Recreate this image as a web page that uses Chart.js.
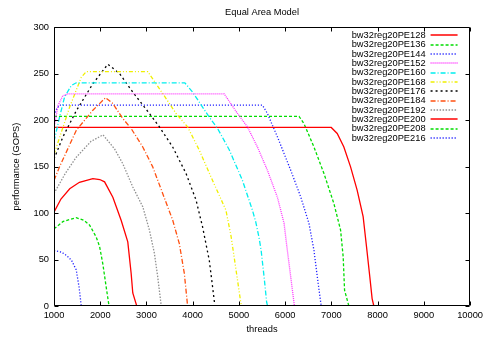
<!DOCTYPE html>
<html>
<head>
<meta charset="utf-8">
<script src="https://cdn.jsdelivr.net/npm/chart.js@4.4.1/dist/chart.umd.min.js"></script>
<style>
  html, body { margin: 0; padding: 0; background: #fff; }
  #wrap { width: 487px; height: 339px; }
</style>
</head>
<body>
<div id="wrap"><canvas id="c" width="487" height="339"></canvas></div>
<script>
// Text
const chartTitle = 'Equal Area Model';
const xTitle = 'threads';
const yTitle = 'performance (GOPS)';

// Axis ticks
const xTicks = [1000, 2000, 3000, 4000, 5000, 6000, 7000, 8000, 9000, 10000];
const yTicks = [0, 50, 100, 150, 200, 250, 300];

// Series names
const seriesNames = [
  'bw32reg20PE128', 'bw32reg20PE136', 'bw32reg20PE144', 'bw32reg20PE152',
  'bw32reg20PE160', 'bw32reg20PE168', 'bw32reg20PE176', 'bw32reg20PE184',
  'bw32reg20PE192', 'bw32reg20PE200', 'bw32reg20PE208', 'bw32reg20PE216'
];

// Performance curves: threads and GOPS per configuration
const pe128Threads = [1000, 1150, 1340, 1550, 1840, 1990, 2094, 2273, 2454, 2596, 2669, 2704, 2790];
const pe128Gops    = [101, 115, 126, 133, 137, 136, 133.5, 117, 92, 69, 35, 14, 0];

const pe136Threads = [1000, 1200, 1480, 1650, 1770, 1914, 1986, 2057, 2130, 2190];
const pe136Gops    = [83, 91, 95, 92, 87, 74, 64, 45, 20, 0];

const pe144Threads = [1000, 1160, 1280, 1380, 1480, 1540, 1590];
const pe144Gops    = [59.5, 58, 54, 49, 39, 21, 0];

const pe152Threads = [1000, 1090, 1190, 1300, 4682, 4969, 5184, 5400, 5616, 5832, 5976, 6047, 6120, 6200];
const pe152Gops    = [192, 216, 226, 228, 228, 207, 192.6, 171, 146, 117, 89, 60, 31.5, 0];

const pe160Threads = [1000, 1120, 1230, 1375, 1480, 3830, 3998, 4359, 4537, 4790, 5077, 5292, 5366, 5437, 5480, 5545, 5600, 5620];
const pe160Gops    = [177, 203, 225, 237, 240, 240, 230, 203, 191, 168, 135, 103, 90, 73, 60, 31, 4, 0];

const pe168Threads = [1000, 1339, 1591, 1699, 3028, 3351, 3640, 3890, 4143, 4430, 4719, 4830, 4934, 5042, 5060];
const pe168Gops    = [163, 214, 246, 252, 252, 228.5, 207, 192.6, 167.6, 135, 103, 75, 40, 3, 0];

const pe176Threads = [1000, 1194, 1483, 1841, 2165, 2417, 2704, 3064, 3280, 3567, 3856, 4072, 4214, 4359, 4430, 4480];
const pe176Gops    = [158, 182, 210, 239, 260, 250, 230, 207, 192.6, 171, 142.5, 114, 85, 49, 20.7, 0];

const pe184Threads = [1000, 1123, 1483, 1841, 2115, 2273, 2488, 2669, 2920, 3135, 3351, 3567, 3711, 3819, 3890];
const pe184Gops    = [135, 150, 189, 210.5, 224, 217.7, 201.6, 190.8, 171, 149.6, 121, 92.4, 67, 35, 0];

const pe192Threads = [1000, 1250, 1483, 1800, 2060, 2309, 2488, 2704, 2920, 3064, 3172, 3243, 3320];
const pe192Gops    = [121, 143, 160, 177, 184, 169, 153, 128, 106.7, 81.6, 56.6, 31.5, 0];

const pe200Threads = [1000, 6997, 7126, 7270, 7415, 7557, 7687, 7760, 7831, 7881, 7918];
const pe200Gops    = [192, 192, 185.5, 171, 149.6, 124.6, 96, 63.7, 31.5, 8, 0];

const pe208Threads = [1000, 6300, 6408, 6623, 6839, 7055, 7199, 7255, 7285, 7378];
const pe208Gops    = [204, 204, 196, 171, 142.5, 110, 81.6, 53, 17, 0];

const pe216Threads = [1000, 1060, 1120, 5508, 5616, 5832, 6120, 6336, 6515, 6623, 6695, 6780];
const pe216Gops    = [205, 212, 216, 216, 207, 182, 146, 117.4, 88.8, 60, 31.5, 0];

const seriesThreads = [pe128Threads, pe136Threads, pe144Threads, pe152Threads, pe160Threads, pe168Threads,
                       pe176Threads, pe184Threads, pe192Threads, pe200Threads, pe208Threads, pe216Threads];
const seriesGops = [pe128Gops, pe136Gops, pe144Gops, pe152Gops, pe160Gops, pe168Gops,
                    pe176Gops, pe184Gops, pe192Gops, pe200Gops, pe208Gops, pe216Gops];

// gnuplot-like line types (colour cycle repeats after nine)
const lineColors = ['#ff0000', '#00dd00', '#2020ff', '#ff30ff', '#00eeee', '#f0f000',
                    '#000000', '#ff5010', '#909090', '#ff0000', '#00dd00', '#2020ff'];
const lineDashes = [[], [3, 2], [1.2, 1.8], [1, 1], [5, 2, 1, 2], [4, 2, 1, 2, 1, 2],
                    [2, 3], [5, 2, 1, 2], [1.5, 1.5], [], [3, 2], [1.2, 1.8]];
const LW = 1.3;

const FONT = '"Liberation Sans", Arial, Helvetica, sans-serif';
const FS = 9.3;

const datasets = seriesNames.map((name, i) => ({
  label: name,
  data: seriesThreads[i].map((t, j) => ({ x: t, y: seriesGops[i][j] })),
  borderColor: lineColors[i],
  borderDash: lineDashes[i],
  borderWidth: LW,
  pointRadius: 0,
  fill: false,
  tension: 0
}));

// Border box, mirrored inward ticks, title and key
const gnuplotFrame = {
  id: 'gnuplotFrame',
  afterDraw(chart) {
    const { ctx, chartArea: a, scales } = chart;
    ctx.save();
    ctx.strokeStyle = '#000';
    ctx.lineWidth = 1;
    ctx.setLineDash([]);
    const L = Math.round(a.left) + 0.5, R = Math.round(a.right) - 0.5;
    const T = Math.round(a.top) + 0.5, B = Math.round(a.bottom) - 0.5;
    ctx.beginPath();
    ctx.rect(L, T, R - L, B - T);
    const tl = 4;
    scales.x.ticks.forEach(t => {
      const px = Math.round(scales.x.getPixelForValue(t.value)) + 0.5;
      ctx.moveTo(px, B); ctx.lineTo(px, B - tl);
      ctx.moveTo(px, T); ctx.lineTo(px, T + tl);
    });
    scales.y.ticks.forEach(t => {
      const py = Math.round(scales.y.getPixelForValue(t.value)) + 0.5;
      ctx.moveTo(L, py); ctx.lineTo(L + tl, py);
      ctx.moveTo(R, py); ctx.lineTo(R - tl, py);
    });
    ctx.stroke();

    ctx.fillStyle = '#000';
    ctx.font = FS + 'px ' + FONT;
    ctx.textAlign = 'center';
    ctx.textBaseline = 'middle';
    ctx.fillText(chartTitle, (a.left + a.right) / 2, 12);

    // key: name right-aligned, line sample to its right
    ctx.textAlign = 'right';
    seriesNames.forEach((name, i) => {
      const y = a.top + 8.3 + i * 9.34;
      ctx.fillStyle = '#000';
      ctx.fillText(name, a.right - 44.5, y);
      const ly = Math.round(y);
      ctx.save();
      ctx.strokeStyle = lineColors[i];
      ctx.lineWidth = 1.5;
      ctx.setLineDash(lineDashes[i]);
      ctx.beginPath();
      ctx.moveTo(a.right - 39.5, ly);
      ctx.lineTo(a.right - 12.5, ly);
      ctx.stroke();
      ctx.restore();
    });
    ctx.restore();
  }
};

new Chart(document.getElementById('c'), {
  type: 'line',
  data: { datasets },
  plugins: [gnuplotFrame],
  options: {
    responsive: false,
    animation: false,
    devicePixelRatio: 1,
    layout: { padding: { top: 27, right: 15, left: 0, bottom: 0 } },
    plugins: { legend: { display: false }, title: { display: false }, tooltip: { enabled: false } },
    scales: {
      x: {
        type: 'linear',
        min: 1000, max: 10000,
        afterBuildTicks: s => { s.ticks = xTicks.map(v => ({ value: v })); },
        afterFit: s => { s.height = 33; },
        grid: { display: false, drawTicks: false },
        border: { display: false },
        ticks: { color: '#000', font: { family: FONT, size: FS }, padding: 4, maxRotation: 0, autoSkip: false,
                 callback: v => String(v) },
        title: { display: true, text: xTitle, color: '#000', font: { family: FONT, size: FS },
                 padding: { top: 0, bottom: 4 } }
      },
      y: {
        type: 'linear',
        min: 0, max: 300,
        afterBuildTicks: s => { s.ticks = yTicks.map(v => ({ value: v })); },
        afterFit: s => { s.width = 54; },
        grid: { display: false, drawTicks: false },
        border: { display: false },
        ticks: { color: '#000', font: { family: FONT, size: FS }, padding: 5, autoSkip: false,
                 callback: v => String(v) },
        title: { display: true, text: yTitle, color: '#000', font: { family: FONT, size: FS },
                 padding: { top: 11, bottom: 0 } }
      }
    }
  }
});
</script>
</body>
</html>
